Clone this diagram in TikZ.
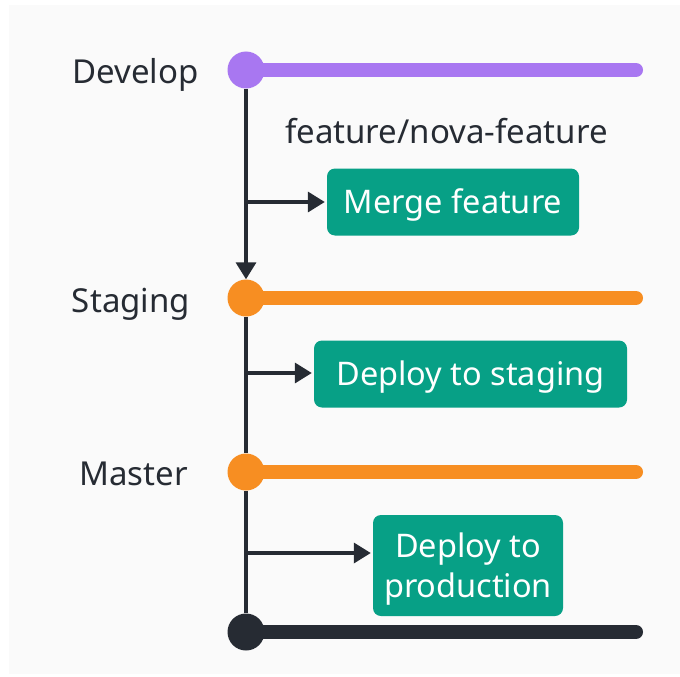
\documentclass[tikz,border=0pt]{standalone}
\usepackage{fontspec}
\setmainfont{Noto Sans}
\usetikzlibrary{arrows.meta}
\definecolor{paper}{HTML}{FAFAFA}
\definecolor{ink}{HTML}{262B33}
\definecolor{devcol}{HTML}{A877F1}
\definecolor{relcol}{HTML}{F78E22}
\definecolor{actcol}{HTML}{07A086}
\pgfdeclarelayer{back}
\pgfsetlayers{back,main}
\tikzset{
  lbl/.style={font=\fontsize{33}{40}\selectfont, text=ink, inner sep=0pt, anchor=base},
  actbox/.style={fill=actcol, rounded corners=8pt, text=white,
    font=\fontsize{32.5}{40}\selectfont, align=center, inner sep=0pt,
    text height=23pt, text depth=0pt},
  dot/.style={circle, minimum size=37pt, inner sep=0pt},
  trunk/.style={draw=ink, line width=3.5pt},
  track/.style={line width=14pt, line cap=round},
  tip/.style={-{Triangle[length=17pt,width=20pt]}}
}
\begin{document}
\begin{tikzpicture}[x=1pt,y=-1pt]
\useasboundingbox (0,0) rectangle (680,677);

% commit points on the main line
\node[dot, fill=devcol] (dev) at (246,70) {};
\node[dot, fill=relcol] (stg) at (246,298) {};
\node[dot, fill=relcol] (mst) at (246,472) {};
\node[dot, fill=ink]    (fin) at (246,632) {};

% right ends of the branch tracks
\coordinate (devEnd) at (636,70);
\coordinate (stgEnd) at (636,298);
\coordinate (mstEnd) at (636,472);
\coordinate (finEnd) at (636,632);

% branch labels
\node[lbl] (devLbl) at (135.5,83) {Develop};
\node[lbl] (stgLbl) at (131,312) {Staging};
\node[lbl] (mstLbl) at (133.5,485) {Master};
\node[lbl] (featLbl) at (446.5,143) {feature/nova-feature};

% action boxes
\node[actbox, minimum width=252pt, minimum height=67pt] (merge) at (453,202) {Merge feature};
\node[actbox, minimum width=313pt, minimum height=67pt] (toStg) at (470.5,374) {Deploy to staging};
\node[actbox, minimum width=190pt, minimum height=101pt, text height=64pt] (toProd) at (468,565.5) {Deploy to\\production};

% points on the main line where the actions branch off
\coordinate (b1) at (246,202);
\coordinate (b2) at (246,373);
\coordinate (b3) at (246,553);

\begin{pgfonlayer}{back}
  \fill[white] (0,0) rectangle (680,677);
  \fill[paper] (9,5) rectangle (680,674);
  \draw[track, devcol] (dev.center) -- (devEnd);
  \draw[track, relcol] (stg.center) -- (stgEnd);
  \draw[track, relcol] (mst.center) -- (mstEnd);
  \draw[track, ink] (fin.center) -- (finEnd);
  \draw[trunk, tip] (dev) -- (stg.north);
  \draw[trunk] (stg) -- (mst);
  \draw[trunk] (mst) -- (fin);
\end{pgfonlayer}

\draw[trunk, tip, shorten >=2pt] (b1) -- (merge.west);
\draw[trunk, tip, shorten >=2pt] (b2) -- (b2 -| toStg.west);
\draw[trunk, tip, shorten >=2pt] (b3) -- (b3 -| toProd.west);
\end{tikzpicture}
\end{document}
